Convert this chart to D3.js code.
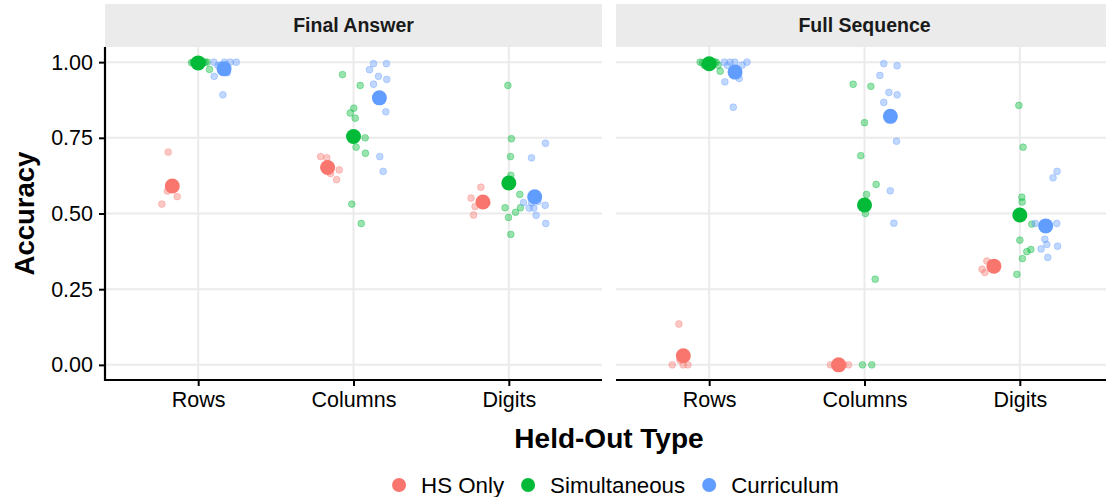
<!DOCTYPE html>
<html><head><meta charset="utf-8">
<script src="https://cdn.jsdelivr.net/npm/d3@7"></script>
<style>body{margin:0;background:#fff}svg{display:block;font-family:"Liberation Sans",Arial,Helvetica,sans-serif}</style>
</head><body><svg id="c" width="1106" height="497"></svg>
<script>
const facets = ["Final Answer", "Full Sequence"];
const categories = ["Rows", "Columns", "Digits"];
const groups = ["HS Only", "Simultaneous", "Curriculum"];
const colors = ["#F8766D", "#00BA38", "#619CFF"];
const yTicks = [0, 0.25, 0.5, 0.75, 1.0];

// values per category [Rows, Columns, Digits]
const finalHS = [[0.703,0.59,0.574,0.556,0.531],[0.688,0.684,0.644,0.612,0.632],[0.587,0.551,0.523,0.495,0.534]];
const finalSim = [[0.998,0.976,1,1,1,1,1,1,1,1],[0.959,0.923,0.848,0.832,0.815,0.750,0.719,0.699,0.531,0.467],[0.923,0.747,0.688,0.626,0.563,0.519,0.519,0.504,0.487,0.431]];
const finalCur = [[1,1,1,0.953,0.892,0.965,0.989,1,0.99,0.99],[0.995,0.995,0.975,0.953,0.943,0.927,0.836,0.688,0.639,0.87],[0.732,0.684,0.536,0.518,0.518,0.527,0.494,0.467,0.54,0.535]];
const fullHS = [[0.135,0,0,0,0.015],[0,0,0,0,0],[0.343,0.316,0.305,0.335,0.331]];
const fullSim = [[0.998,0.970,1,1,1,1,1,1,0.99,0.99],[0.927,0.920,0.800,0.691,0.596,0.563,0.500,0.283,0,0],[0.857,0.719,0.554,0.538,0.465,0.412,0.374,0.381,0.351,0.299]];
const fullCur = [[1,1,1,0.989,0.935,0.946,0.851,1,0.99,0.96],[0.995,0.988,0.956,0.900,0.892,0.867,0.739,0.575,0.468,0.83],[0.639,0.618,0.467,0.467,0.415,0.398,0.383,0.392,0.355,0.456]];

// horizontal jitter (category units, relative to category centre)
const finalHSJit = [[-0.193,-0.161,-0.198,-0.135,-0.234],[-0.212,-0.172,-0.092,-0.109,-0.148],[-0.180,-0.243,-0.217,-0.227,-0.142]];
const finalSimJit = [[-0.043,0.073,0.058,-0.019,0.013,0.032,-0.032,0,0.045,0.019],[-0.071,0.043,0.002,-0.021,0.011,0.075,0.017,0.077,-0.011,0.050],[-0.006,0.017,0.011,0.013,0.071,-0.024,0.075,0.043,-0.002,0.013]];
const finalCurJit = [[0.101,0.169,0.245,0.103,0.159,0.187,0.127,0.206,0.142,0.180],[0.129,0.212,0.103,0.161,0.214,0.129,0.208,0.169,0.191,0.174],[0.236,0.146,0.095,0.131,0.161,0.234,0.176,0.238,0.187,0.148]];
const fullHSJit = [[-0.195,-0.238,-0.167,-0.137,-0.187],[-0.219,-0.193,-0.167,-0.135,-0.103],[-0.212,-0.243,-0.225,-0.187,-0.148]];
const fullSimJit = [[-0.043,0.071,0.019,-0.019,0.045,-0.058,0,0.032,-0.032,0.058],[-0.073,0.041,0,-0.024,0.075,0.013,0.006,0.069,-0.013,0.047],[-0.006,0.021,0.013,0.015,0.077,0,0.045,0.071,0.017,-0.019]];
const fullCurJit = [[0.097,0.165,0.243,0.118,0.101,0.193,0.155,0.135,0.212,0.174],[0.124,0.210,0.099,0.157,0.210,0.124,0.206,0.166,0.189,0.174],[0.240,0.214,0.099,0.238,0.161,0.174,0.137,0.243,0.180,0.167]];
const dodge = [-1/6, 0, 1/6];

const facetValues = [[finalHS, finalSim, finalCur], [fullHS, fullSim, fullCur]];
const facetJitter = [[finalHSJit, finalSimJit, finalCurJit], [fullHSJit, fullSimJit, fullCurJit]];

const svg = d3.select("#c");
const panelTop = 47, panelBottom = 380, panelW = 497;
const panelLefts = [105, 616];
const stripTop = 4;

const y = d3.scaleLinear().domain([-0.05, 1.05]).range([panelBottom, panelTop]);

facets.forEach((f, fi) => {
  const x0 = panelLefts[fi];
  const x = d3.scalePoint().domain(categories).range([x0, x0 + panelW]).padding(0.6);
  const step = x.step();
  const g = svg.append("g");
  // strip
  g.append("rect").attr("x", x0).attr("y", stripTop).attr("width", panelW).attr("height", panelTop - stripTop).attr("fill", "#EBEBEB");
  g.append("text").attr("x", x0 + panelW / 2).attr("y", (stripTop + panelTop) / 2).attr("dy", "0.35em")
    .attr("text-anchor", "middle").attr("font-weight", "bold").attr("font-size", 19.5).attr("fill", "#1a1a1a").text(f);
  // grid
  g.selectAll(".hg").data(yTicks).join("line").attr("x1", x0).attr("x2", x0 + panelW)
    .attr("y1", d => y(d)).attr("y2", d => y(d)).attr("stroke", "#EBEBEB").attr("stroke-width", 2);
  g.selectAll(".vg").data(categories).join("line").attr("x1", d => x(d)).attr("x2", d => x(d))
    .attr("y1", panelTop).attr("y2", panelBottom).attr("stroke", "#EBEBEB").attr("stroke-width", 2);

  // points
  groups.forEach((gr, gi) => {
    categories.forEach((cat, ci) => {
      const vals = facetValues[fi][gi][ci];
      const jit = facetJitter[fi][gi][ci];
      g.selectAll(null).data(vals.map((v, i) => ({ v, j: jit[i] }))).join("circle")
        .attr("cx", d => x(cat) + d.j * step).attr("cy", d => y(d.v)).attr("r", 3.4)
        .attr("fill", colors[gi]).attr("fill-opacity", 0.4)
        .attr("stroke", colors[gi]).attr("stroke-opacity", 0.35).attr("stroke-width", 1);
    });
  });
  groups.forEach((gr, gi) => {
    categories.forEach((cat, ci) => {
      const m = d3.mean(facetValues[fi][gi][ci]);
      g.append("circle").attr("cx", x(cat) + dodge[gi] * step).attr("cy", y(m)).attr("r", 7.5).attr("fill", colors[gi]);
    });
  });

  // x axis
  const xa = g.append("g").attr("transform", `translate(0,${panelBottom})`)
    .call(d3.axisBottom(x).tickSize(6).tickPadding(6));
  xa.select(".domain").attr("d", `M${x0},0H${x0 + panelW}`).attr("stroke", "#000").attr("stroke-width", 2.2);
  xa.selectAll(".tick line").attr("stroke", "#000").attr("stroke-width", 2);
  xa.selectAll(".tick text").attr("font-size", 21.5).attr("fill", "#000").attr("font-family", null);

  if (fi === 0) {
    const ya = g.append("g").attr("transform", `translate(${x0},0)`)
      .call(d3.axisLeft(y).tickValues(yTicks).tickFormat(d3.format(".2f")).tickSize(6).tickPadding(6));
    ya.select(".domain").attr("d", `M0,${panelTop}V${panelBottom + 1}`).attr("stroke", "#000").attr("stroke-width", 2.2);
    ya.selectAll(".tick line").attr("stroke", "#000").attr("stroke-width", 2);
    ya.selectAll(".tick text").attr("font-size", 21.5).attr("fill", "#000").attr("font-family", null);
  }
});

// axis titles
svg.append("text").attr("x", (panelLefts[0] + panelLefts[1] + panelW) / 2).attr("y", 448)
  .attr("text-anchor", "middle").attr("font-weight", "bold").attr("font-size", 28).text("Held-Out Type");
svg.append("text").attr("transform", `translate(34,${(panelTop + panelBottom) / 2}) rotate(-90)`)
  .attr("text-anchor", "middle").attr("font-weight", "bold").attr("font-size", 27.5).text("Accuracy");

// legend
const lg = svg.append("g");
let cx = 0;
groups.forEach((gr, gi) => {
  const it = lg.append("g");
  it.append("circle").attr("cx", 7).attr("cy", 0).attr("r", 7).attr("fill", colors[gi]);
  const t = it.append("text").attr("x", 29).attr("dy", "0.35em").attr("font-size", 22.3).text(gr);
  const w = 29 + t.node().getComputedTextLength();
  it.attr("transform", `translate(${cx},0)`);
  cx += w + 17;
});
const totalW = cx - 17;
lg.attr("transform", `translate(${615.5 - totalW / 2},485)`);
</script></body></html>
